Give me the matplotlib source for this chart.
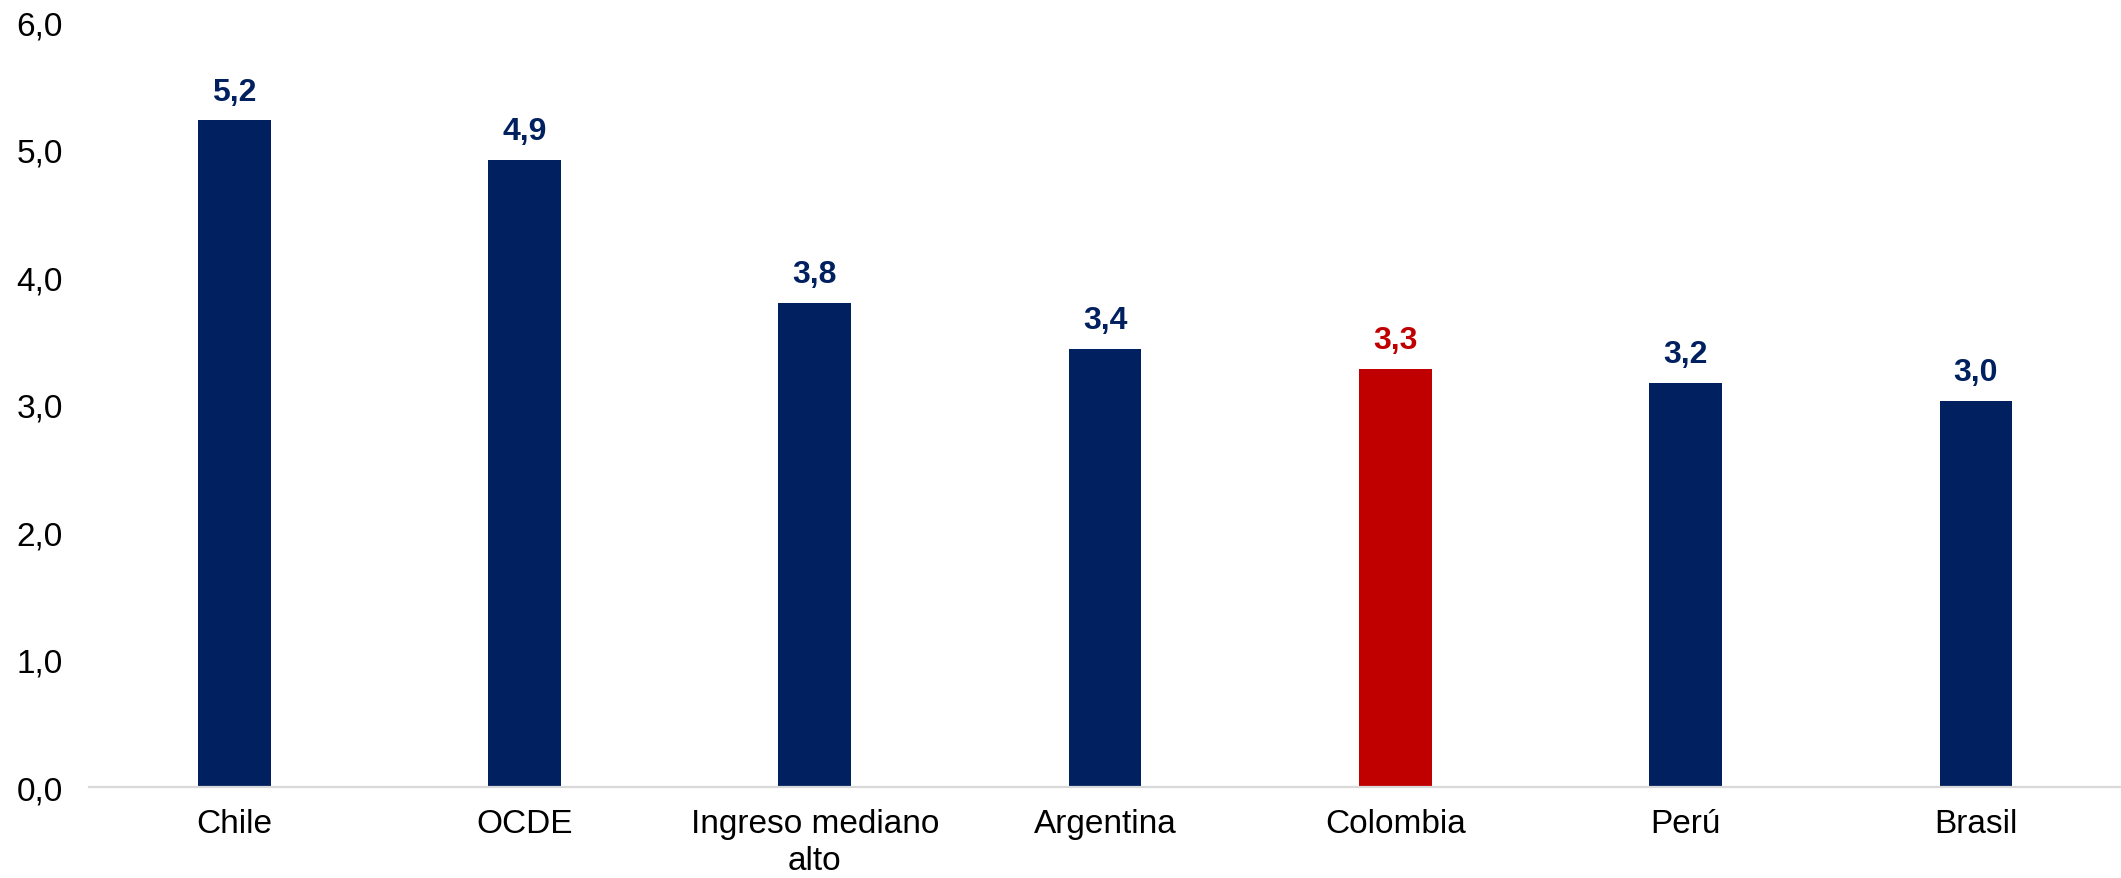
import matplotlib
matplotlib.use("Agg")
import matplotlib.pyplot as plt

categories = ["Chile", "OCDE", "Ingreso mediano\nalto", "Argentina", "Colombia", "Perú", "Brasil"]
values = [5.23, 4.92, 3.80, 3.44, 3.28, 3.17, 3.03]
highlight = "Colombia"

NAVY = "#002060"
RED = "#C00000"

plt.rcParams['font.family'] = ['Liberation Sans', 'DejaVu Sans']

fig = plt.figure(figsize=(21.21, 8.79), dpi=100)
ax = fig.add_axes([0.042, 0.1035, 0.958, 0.870])

colors = [RED if c == highlight else NAVY for c in categories]
x = list(range(len(categories)))
bars = ax.bar(x, values, width=0.25, color=colors, zorder=2)

for xi, v, c in zip(x, values, colors):
    lab = f"{v:.1f}".replace(".", ",")
    ax.annotate(lab, (xi, v), xytext=(0, 10), textcoords="offset points",
                ha="center", va="bottom", fontsize=23, fontweight="bold", color=c)

ax.set_xlim(-0.5, len(categories) - 0.5)
ax.set_ylim(0, 6)
ax.set_yticks([0, 1, 2, 3, 4, 5, 6])
ax.set_yticklabels([f"{t:.1f}".replace(".", ",") for t in [0, 1, 2, 3, 4, 5, 6]])
ax.set_xticks(x)
ax.set_xticklabels(categories, linespacing=1.25)

ax.tick_params(axis="y", length=0, pad=19, labelsize=24, colors="black")
ax.tick_params(axis="x", length=0, pad=15, labelsize=24, colors="black")

for s in ["left", "right", "top"]:
    ax.spines[s].set_visible(False)
ax.spines["bottom"].set_color("#D9D9D9")
ax.spines["bottom"].set_linewidth(1.6)
ax.spines["bottom"].set_zorder(3)

fig.savefig("out.png", dpi=100)
